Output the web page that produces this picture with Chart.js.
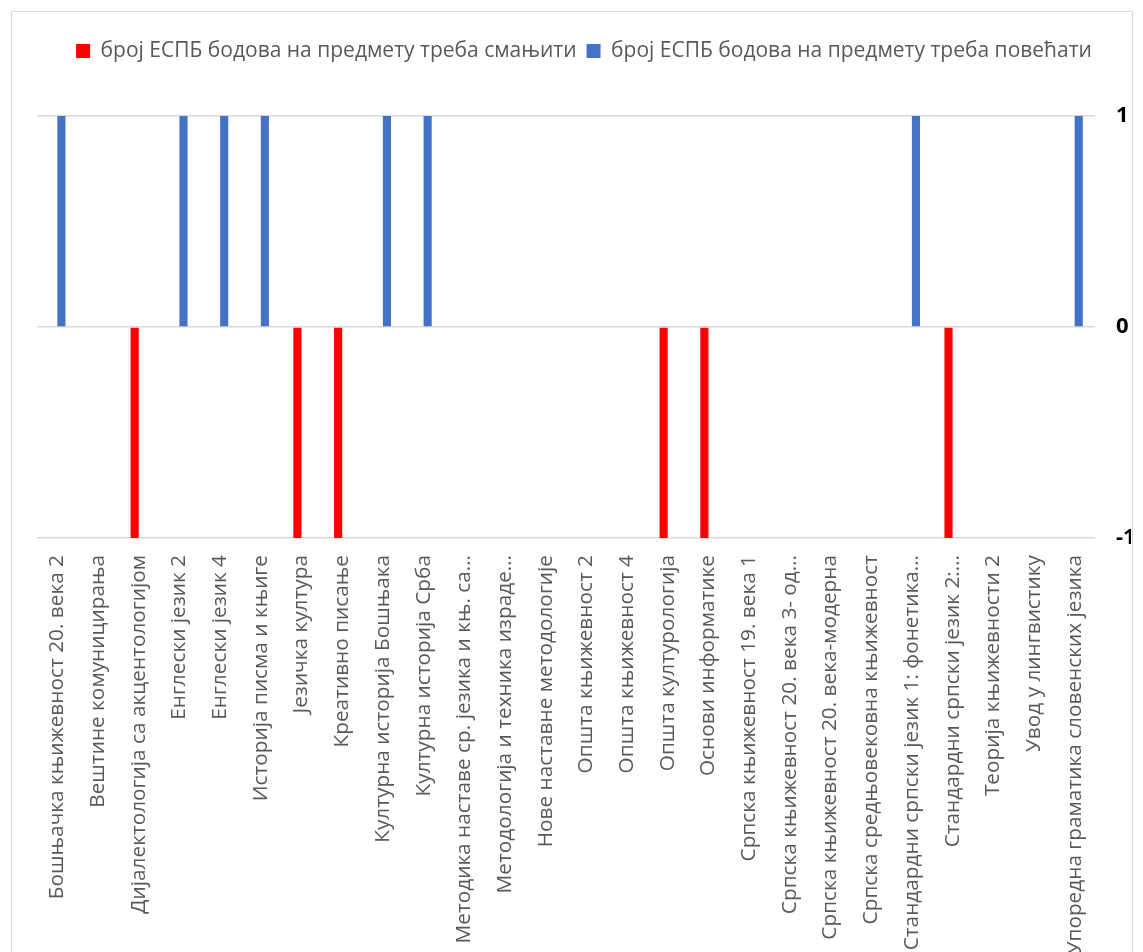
<!DOCTYPE html>
<html>
<head>
<meta charset="utf-8">
<script src="https://cdn.jsdelivr.net/npm/chart.js@4.4.1/dist/chart.umd.min.js"></script>
<style>
  html, body { margin: 0; padding: 0; background: #fff; overflow: hidden; }
  body { width: 1143px; height: 952px; position: relative; }
  #frame { position: absolute; left: 11px; top: 11px; width: 1120px; height: 1000px; border: 1px solid #d9d9d9; }
  #wrap { position: absolute; left: 0; top: 0; width: 1143px; height: 952px; }
</style>
</head>
<body>
<div id="frame"></div>
<div id="wrap"><canvas id="chart"></canvas></div>
<script>
const subjects = [
  'Бошњачка књижевност 20. века 2',
  'Вештине комуницирања',
  'Дијалектологија са акцентологијом',
  'Енглески језик 2',
  'Енглески језик 4',
  'Историја писма и књиге',
  'Језичка култура',
  'Креативно писање',
  'Културна историја Бошњака',
  'Културна историја Срба',
  'Методика наставе ср. језика и књ. са…',
  'Методологија и техника израде…',
  'Нове наставне методологије',
  'Општа књижевност 2',
  'Општа књижевност 4',
  'Општа културологија',
  'Основи информатике',
  'Српска књижевност 19. века 1',
  'Српска књижевност 20. века 3- од…',
  'Српска књижевност 20. века-модерна',
  'Српска средњовековна књижевност',
  'Стандардни српски језик 1: фонетика…',
  'Стандардни српски језик 2:…',
  'Теорија књижевности 2',
  'Увод у лингвистику',
  'Упоредна граматика словенских језика',
];

// смањити -> -1, повећати -> 1
const reduceValues   = [0, 0, -1, 0, 0, 0, -1, -1, 0, 0, 0, 0, 0, 0, 0, -1, -1, 0, 0, 0, 0, 0, -1, 0, 0, 0];
const increaseValues = [1, 0, 0, 1, 1, 1, 0, 0, 1, 1, 0, 0, 0, 0, 0, 0, 0, 0, 0, 0, 0, 1, 0, 0, 0, 1];

const seriesNames = [
  'број ЕСПБ бодова на предмету треба смањити',
  'број ЕСПБ бодова на предмету треба повећати',
];
const yMin = -1;
const yMax = 1;

const FONT = '"Open Sans", "Noto Sans", sans-serif';

// extra space under the legend
const legendMargin = {
  id: 'legendMargin',
  beforeInit(chart) {
    const fit = chart.legend.fit;
    chart.legend.fit = function () {
      fit.bind(chart.legend)();
      this.height += 44.5;
    };
  }
};

const ctx = document.getElementById('chart').getContext('2d');
new Chart(ctx, {
  type: 'bar',
  data: {
    labels: subjects,
    datasets: [
      {
        label: seriesNames[0],
        data: reduceValues,
        backgroundColor: '#FF0000',
        borderWidth: 0,
        categoryPercentage: 0.4,
        barPercentage: 1,
      },
      {
        label: seriesNames[1],
        data: increaseValues,
        backgroundColor: '#4472C4',
        borderWidth: 0,
        categoryPercentage: 0.4,
        barPercentage: 1,
      }
    ]
  },
  options: {
    responsive: true,
    maintainAspectRatio: false,
    animation: false,
    layout: { padding: { top: 30.5, left: 37, right: 12, bottom: 0 } },
    plugins: {
      tooltip: { enabled: false },
      legend: {
        position: 'top',
        labels: {
          boxWidth: 14,
          boxHeight: 14,
          padding: 10,
          color: '#595959',
          font: { family: FONT, size: 21 }
        }
      }
    },
    scales: {
      x: {
        grid: { display: false, drawTicks: false },
        border: { display: false },
        ticks: {
          autoSkip: false,
          maxRotation: 90,
          minRotation: 90,
          padding: 17,
          color: '#595959',
          font: { family: FONT, size: 20.8 }
        },
        afterFit(scale) { scale.height = 414; }
      },
      y: {
        position: 'right',
        min: yMin,
        max: yMax,
        grid: { color: '#d9d9d9', lineWidth: 1.5, drawTicks: false },
        border: { display: false },
        ticks: {
          stepSize: 1,
          padding: 21,
          color: '#000',
          font: { family: FONT, size: 22, weight: 'bold' }
        },
        afterFit(scale) { scale.width = 36; }
      }
    }
  },
  plugins: [legendMargin]
});
</script>
</body>
</html>
